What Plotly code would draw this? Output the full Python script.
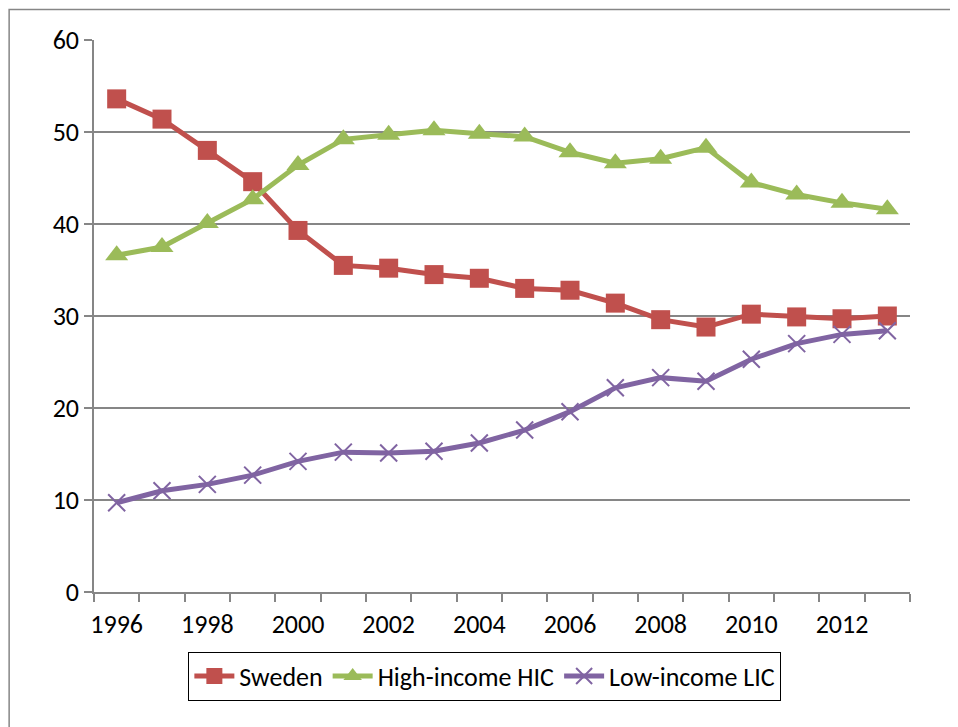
import plotly.graph_objects as go

years = list(range(1996, 2014))

sweden = [53.6, 51.4, 48.0, 44.6, 39.3, 35.5, 35.2, 34.5, 34.1, 33.0,
          32.8, 31.4, 29.6, 28.8, 30.2, 29.9, 29.7, 30.0]
high_income = [36.6, 37.5, 40.1, 42.7, 46.4, 49.2, 49.7, 50.2, 49.8, 49.5,
               47.8, 46.6, 47.1, 48.3, 44.5, 43.2, 42.3, 41.6]
low_income = [9.7, 11.0, 11.7, 12.7, 14.2, 15.2, 15.1, 15.3, 16.2, 17.6,
              19.6, 22.2, 23.3, 22.9, 25.3, 27.0, 28.0, 28.4]

x_labels = list(range(1996, 2013, 2))
y_ticks = [0, 10, 20, 30, 40, 50, 60]

GRAY = "#868686"
FONT = "Carlito, Lato, sans-serif"

fig = go.Figure()

fig.add_trace(go.Scatter(
    x=years, y=sweden, name="Sweden", mode="lines+markers",
    line=dict(color="#C0504D", width=5),
    marker=dict(symbol="square", size=19, color="#C0504D"),
))
fig.add_trace(go.Scatter(
    x=years, y=high_income, name="High-income HIC", mode="lines+markers",
    line=dict(color="#9BBB59", width=5),
    marker=dict(symbol="triangle-up", size=20, color="#9BBB59"),
))
fig.add_trace(go.Scatter(
    x=years, y=low_income, name="Low-income LIC", mode="lines+markers",
    line=dict(color="#8064A2", width=5),
    marker=dict(symbol="x-thin", size=17, line=dict(color="#8064A2", width=2)),
))

# page body adds 8px, so margins are offset by that
fig.update_layout(
    width=958, height=727,
    margin=dict(l=86, r=56, t=32, b=143),
    paper_bgcolor="white", plot_bgcolor="white",
    font=dict(family=FONT, size=26, color="black"),
    showlegend=True,
    legend=dict(
        orientation="h", x=0.479, xanchor="center", y=-0.108, yanchor="top",
        bordercolor="black", borderwidth=1, font=dict(size=26),
        itemwidth=40, tracegroupgap=0,
    ),
    xaxis=dict(
        range=[1995.5, 2013.5], tickmode="array", tickvals=x_labels,
        ticks="", showgrid=False, zeroline=False,
        showline=True, linecolor=GRAY, linewidth=1.5,
        ticklabelstandoff=8,
        minor=dict(tick0=1995.5, dtick=1, ticks="outside", ticklen=8,
                   tickcolor=GRAY, tickwidth=1.5, showgrid=False),
    ),
    yaxis=dict(
        range=[0, 60], tickmode="array", tickvals=y_ticks,
        ticks="outside", ticklen=8, tickcolor=GRAY, tickwidth=1.5,
        showgrid=True, gridcolor=GRAY, gridwidth=1.5, zeroline=False,
        showline=True, linecolor=GRAY, linewidth=1.5,
    ),
)

# outer chart-area border (runs off the right and bottom of the picture)
fig.add_shape(type="rect", xref="paper", yref="paper",
              x0=-0.104, x1=1.2, y0=-0.4, y1=1.0553,
              line=dict(color=GRAY, width=1.5), layer="below")

fig.write_html("out.html")
